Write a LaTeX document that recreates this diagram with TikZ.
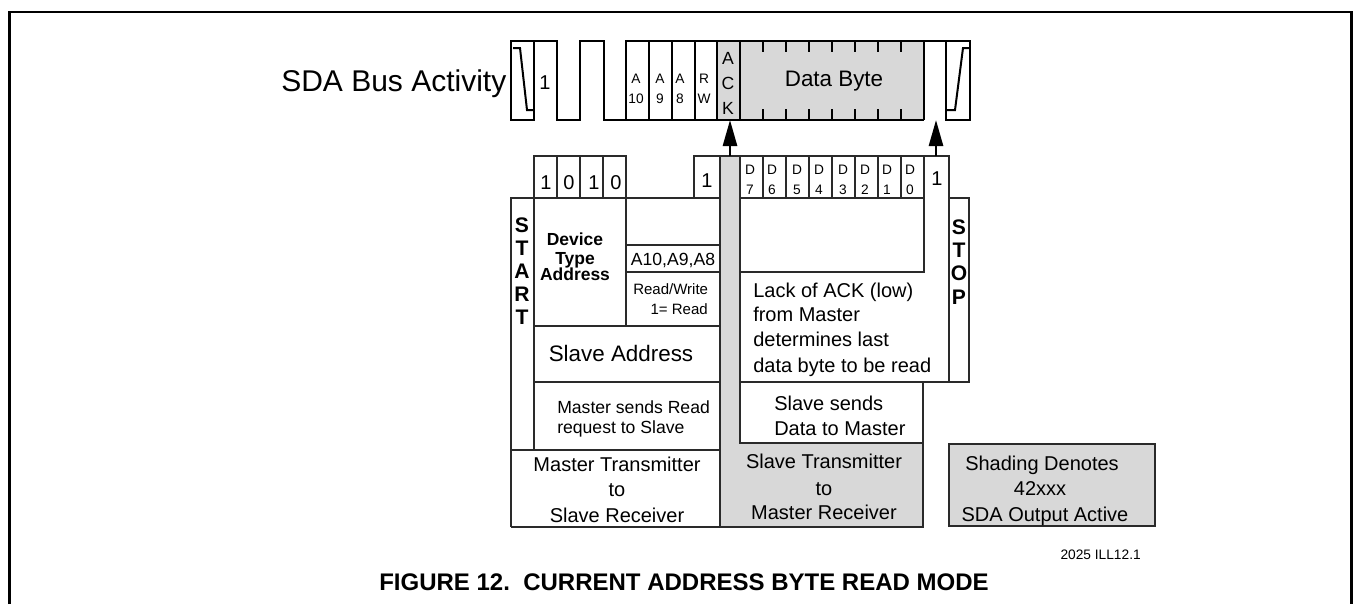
\documentclass[tikz,border=0pt]{standalone}
\usepackage{fontspec}
\setmainfont{Liberation Sans}
\usetikzlibrary{arrows.meta}
\definecolor{shadegray}{HTML}{D8D8D8}
\definecolor{rulegray}{HTML}{2A2A2A}
\tikzset{
 wave/.style={draw=black,line width=2pt,line join=miter},
 thin box/.style={draw=rulegray,line width=1.2pt},
 tick/.style={draw=black,line width=1.6pt},
 arrowline/.style={draw=black,line width=2pt,-{Triangle[length=19.5pt,width=10.5pt]}},
 lbl/.style={inner sep=0pt,text depth=0pt},
 t30/.style={lbl,text height=16.1pt,font=\fontsize{22.5}{22.5}\selectfont},
 t22/.style={lbl,text height=11.8pt,font=\fontsize{16.8}{16.8}\selectfont},
 t20/.style={lbl,text height=10.7pt,font=\fontsize{15}{15}\selectfont},
 t18/.style={lbl,text height=9.5pt,font=\fontsize{13.2}{13.2}\selectfont},
 t15/.style={lbl,text height=8.1pt,font=\fontsize{11.25}{11.25}\selectfont},
 t14/.style={lbl,text height=7.5pt,font=\fontsize{10.3}{10.3}\selectfont},
 b24/.style={lbl,text height=12.9pt,font=\fontsize{18}{18}\selectfont\bfseries},
 b21/.style={lbl,text height=11.3pt,font=\fontsize{15.8}{15.8}\selectfont\bfseries},
 b18/.style={lbl,text height=9.5pt,font=\fontsize{13.1}{13.1}\selectfont\bfseries},
}
\begin{document}
\begin{tikzpicture}[x=0.75pt,y=-0.75pt]
\useasboundingbox (0,0) rectangle (1353,604);
% frame
\draw[black,line width=2.2pt] (9.5,604) -- (9.5,12) -- (1351.5,12) -- (1351.5,604);
% shaded areas
\fill[shadegray] (717,41) rectangle (924,120);
\fill[shadegray] (720,156) rectangle (740,527);
\fill[shadegray] (720,443) rectangle (923,527);
\fill[shadegray] (949,444) rectangle (1155,526);
% waveform
\draw[wave] (511,41) rectangle (534,120);
\draw[wave] (534,41) -- (557,41) -- (557,120) -- (580,120) -- (580,41) -- (604,41) -- (604,120) -- (924,120);
\draw[wave] (626,120) -- (626,41) -- (970,41) -- (970,120) -- (946,120) -- (946,41);
\foreach \x in {649,672,695,717,740,924} \draw[wave] (\x,41) -- (\x,120);
\draw[line width=1.5pt] (513,48) -- (520,48) -- (527,110) -- (533,110);
\draw[line width=1.5pt] (947,110) -- (955,110) -- (963,48) -- (969,48);
\foreach \x in {763,786,809,832,855,878,901} {
  \draw[tick] (\x,41) -- (\x,52);
  \draw[tick] (\x,109) -- (\x,120);
}
% lower table
\draw[thin box] (534,198) -- (534,156) -- (626,156) -- (626,198);
\foreach \x in {557,580,603} \draw[thin box] (\x,156) -- (\x,198);
\draw[thin box] (694,198) -- (694,156) -- (949,156) -- (949,198);
\foreach \x in {763,786,809,832,855,878,901,924} \draw[thin box] (\x,156) -- (\x,198);
\draw[thin box] (511,527) -- (511,198) -- (720,198);
\draw[thin box] (740,198) -- (924,198);
\draw[thin box] (949,198) -- (969,198) -- (969,382) -- (740,382);
\draw[thin box] (949,198) -- (949,382);
\draw[thin box] (924,198) -- (924,272) -- (740,272);
\draw[thin box] (720,156) -- (720,527);
\draw[thin box] (740,156) -- (740,443) -- (923,443);
\draw[thin box] (923,382) -- (923,527) -- (511,527);
\draw[thin box] (534,198) -- (534,450);
\draw[thin box] (511,450) -- (720,450);
\draw[thin box] (626,198) -- (626,326);
\draw[thin box] (534,326) -- (720,326);
\draw[thin box] (534,382) -- (720,382);
\draw[thin box] (626,245) -- (720,245);
\draw[thin box] (626,272) -- (720,272);
\draw[thin box] (949,444) rectangle (1155,526);
% arrows
\coordinate (ackfrom) at (730,156);
\coordinate (acktip) at (730,120);
\coordinate (stopfrom) at (936,156);
\coordinate (stoptip) at (936,120);
\draw[arrowline] (ackfrom) -- (acktip);
\draw[arrowline] (stopfrom) -- (stoptip);
% text
\node[t30,anchor=west] (sda) at (281,81) {SDA Bus Activity};
\node[t20] (w1) at (545,82) {1};
\node[t14] (a10a) at (636,78) {A}; \node[t14] (a10b) at (636,98) {10};
\node[t14] (a9a) at (660,78) {A}; \node[t14] (a9b) at (660,98) {9};
\node[t14] (a8a) at (680,78) {A}; \node[t14] (a8b) at (680,98) {8};
\node[t14] (rwa) at (704,78) {R}; \node[t14] (rwb) at (704,98) {W};
\node[t18] (acka) at (728,58) {A}; \node[t18] (ackc) at (728,83) {C}; \node[t18] (ackk) at (728,108) {K};
\node[t22] (data) at (834,79) {Data Byte};
\node[t20] (d1) at (546,182) {1}; \node[t20] (d0) at (569,182) {0};
\node[t20] (d1b) at (594,182) {1}; \node[t20] (d0b) at (616,182) {0};
\node[t20] (one) at (707,180) {1};
\node[t20] (onestop) at (937,178) {1};
\foreach \n/\x/\d in {7/750/7,6/772/6,5/797/5,4/819/4,3/843/3,2/865/2,1/887/1,0/910/0} {
  \node[t14] (dh\n) at (\x,169) {D};
  \node[t14] (dl\n) at (\x,189) {\d};
}
\foreach \n/\y/\c in {1/225/S,2/248/T,3/271/A,4/294/R,5/317/T} \node[b21] (st\n) at (522,\y) {\c};
\foreach \n/\y/\c in {1/227/S,2/250/T,3/273/O,4/297/P} \node[b21] (sp\n) at (959,\y) {\c};
\node[b18] (dev1) at (575,239) {Device};
\node[b18] (dev2) at (575,258) {Type};
\node[b18] (dev3) at (575,274) {Address};
\node[t18] (addr) at (673,259) {A10,A9,A8};
\node[t15,anchor=west] (rw1) at (633,289) {Read/Write};
\node[t15,anchor=east] (rw2) at (708,309) {1= Read};
\node[t22] (slave) at (621,354) {Slave Address};
\node[t18,anchor=west] (ms1) at (557,407) {Master sends Read};
\node[t18,anchor=west] (ms2) at (557,427) {request to Slave};
\node[t20] (mt1) at (617,464) {Master Transmitter};
\node[t20] (mt2) at (617,489) {to};
\node[t20] (mt3) at (617,515) {Slave Receiver};
\node[t20,anchor=west] (la1) at (753,290) {Lack of ACK (low)};
\node[t20,anchor=west] (la2) at (753,314) {from Master};
\node[t20,anchor=west] (la3) at (753,339) {determines last};
\node[t20,anchor=west] (la4) at (753,365) {data byte to be read};
\node[t20,anchor=west] (ss1) at (774,403) {Slave sends};
\node[t20,anchor=west] (ss2) at (774,428) {Data to Master};
\node[t20] (st1) at (824,461) {Slave Transmitter};
\node[t20] (st2) at (824,488) {to};
\node[t20] (st3) at (824,512) {Master Receiver};
\node[t20] (sh1) at (1042,463) {Shading Denotes};
\node[t20] (sh2) at (1040,488) {42xxx};
\node[t20] (sh3) at (1045,514) {SDA Output Active};
\node[t14,anchor=east] (ill) at (1141,554) {2025 ILL12.1};
\node[b24,anchor=west] (title) at (379,582) {FIGURE 12.\ \ CURRENT ADDRESS BYTE READ MODE};
\end{tikzpicture}
\end{document}
